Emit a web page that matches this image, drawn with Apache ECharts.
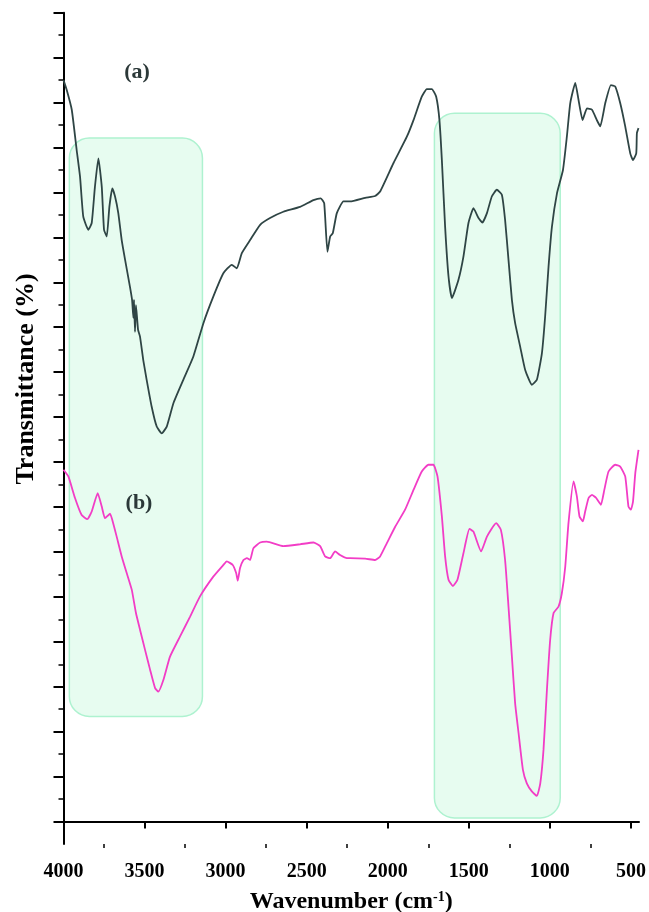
<!DOCTYPE html>
<html>
<head>
    <meta charset="utf-8"/>
    <title>FTIR</title>
    <script src="https://cdn.jsdelivr.net/npm/echarts@6/dist/echarts.min.js"></script>
    <style>html, body { margin: 0; padding: 0; background: #fff; }</style>
</head>
<body>
<div id="main" style="width: 649px; height: 912px"></div>
<script type="text/javascript">
    // spectrum (a) - wavenumber (cm-1) and transmittance (arb. units)
    var waveA = [4000, 3980, 3949, 3919, 3898, 3878, 3847, 3826, 3806, 3785,
        3764, 3750, 3733, 3717, 3699, 3682, 3662, 3641, 3620, 3590,
        3577, 3569, 3565, 3559, 3553, 3540, 3528, 3508, 3487, 3456,
        3425, 3394, 3363, 3322, 3261, 3199, 3137, 3076, 3014, 2962,
        2931, 2900, 2849, 2787, 2726, 2644, 2541, 2458, 2413, 2392,
        2372, 2355, 2339, 2314, 2273, 2232, 2139, 2078, 2047, 1965,
        1882, 1841, 1790, 1759, 1728, 1701, 1681, 1666, 1646, 1625,
        1604, 1564, 1533, 1502, 1471, 1440, 1416, 1388, 1358, 1327,
        1296, 1276, 1255, 1234, 1214, 1183, 1152, 1111, 1080, 1049,
        1029, 1008, 987, 956, 919, 895, 874, 843, 823, 798,
        771, 740, 710, 689, 658, 623, 597, 566, 535, 504,
        487, 467, 463, 453];
    var transA = [165.0, 162.8, 158.4, 149.5, 143.5, 134.6, 131.7, 133.2, 141.3, 147.6,
        141.3, 131.7, 130.2, 136.8, 140.9, 139.1, 135.4, 129.4, 125.0, 119.0,
        116.1, 112.1, 116.1, 109.0, 114.9, 109.4, 107.9, 102.7, 98.3, 92.3,
        87.9, 86.4, 87.9, 93.1, 98.3, 103.5, 110.9, 116.8, 122.0, 123.9,
        123.1, 126.5, 129.4, 132.8, 134.3, 135.7, 136.8, 138.3, 138.7, 137.6,
        126.8, 130.2, 130.9, 135.4, 138.0, 138.0, 138.8, 139.2, 140.2, 146.5,
        152.4, 156.1, 161.3, 163.0, 163.0, 161.3, 156.1, 147.2, 132.4, 121.3,
        116.5, 120.5, 125.7, 133.2, 136.5, 134.3, 133.3, 135.4, 139.1, 140.6,
        139.5, 133.9, 125.0, 116.1, 110.9, 105.7, 100.5, 97.2, 98.3, 104.2,
        112.4, 123.5, 132.4, 139.8, 145.0, 152.4, 159.9, 164.4, 160.6, 156.1,
        158.7, 158.4, 156.1, 154.7, 159.9, 163.9, 163.6, 159.9, 154.7, 148.7,
        147.2, 148.7, 153.2, 154.3];

    // spectrum (b)
    var waveB = [4000, 3970, 3929, 3888, 3853, 3826, 3789, 3764, 3744, 3713,
        3699, 3672, 3641, 3610, 3579, 3553, 3528, 3497, 3466, 3435,
        3415, 3384, 3343, 3281, 3219, 3158, 3076, 3014, 2993, 2956,
        2935, 2925, 2911, 2890, 2869, 2849, 2829, 2787, 2746, 2644,
        2541, 2458, 2417, 2386, 2355, 2325, 2294, 2252, 2232, 2139,
        2078, 2047, 2006, 1954, 1893, 1841, 1790, 1749, 1718, 1693,
        1666, 1646, 1625, 1598, 1570, 1533, 1496, 1471, 1424, 1388,
        1331, 1302, 1276, 1255, 1234, 1214, 1193, 1166, 1142, 1111,
        1080, 1059, 1039, 1018, 998, 977, 947, 926, 905, 885,
        854, 833, 817, 796, 782, 761, 740, 714, 685, 664,
        638, 597, 566, 535, 515, 500, 487, 473, 453];
    var transB = [78.3, 76.8, 72.0, 68.2, 67.3, 69.0, 73.1, 70.1, 67.5, 68.5,
        67.1, 63.4, 59.0, 55.3, 51.6, 46.4, 42.7, 38.2, 33.8, 29.7,
        28.9, 31.5, 36.7, 41.2, 45.6, 50.1, 54.5, 57.1, 57.9, 57.1,
        55.3, 53.6, 56.4, 58.2, 58.6, 58.2, 60.8, 62.1, 62.3, 61.3,
        61.7, 62.1, 61.3, 59.0, 58.6, 60.1, 59.3, 58.6, 58.6, 58.5,
        58.2, 59.0, 61.9, 65.6, 69.4, 73.8, 77.9, 79.4, 79.4, 76.8,
        67.9, 59.0, 53.8, 52.4, 53.8, 59.7, 65.1, 64.5, 60.1, 63.4,
        66.4, 64.9, 58.2, 47.8, 36.7, 26.3, 19.7, 11.5, 8.5, 6.7,
        5.7, 8.5, 16.0, 29.3, 40.4, 46.4, 47.8, 50.8, 56.7, 66.4,
        75.7, 72.3, 67.9, 66.8, 69.0, 72.0, 72.7, 72.0, 70.5, 73.8,
        77.9, 79.4, 79.0, 76.8, 70.1, 69.4, 71.2, 77.5, 82.7];

    // axis ticks
    var xTicks = [4000, 3500, 3000, 2500, 2000, 1500, 1000, 500];
    var xMinorTicks = [3750, 3250, 2750, 2250, 1750, 1250, 750];
    var yTicks = [0, 10, 20, 30, 40, 50, 60, 70, 80, 90, 100, 110, 120, 130, 140, 150, 160, 170, 180];

    // highlighted bands: [wave from, wave to, top, bottom]
    var bands = [[3964, 3143, 152.1, 23.4], [1712, 936, 157.6, 0.8]];

    var serif = '"Liberation Serif", "Times New Roman", serif';

    // x axis runs high -> low, so keep negative values on the axis
    function pairs(w, t) {
        return w.map(function (v, i) { return [-v, t[i]]; });
    }
    function neg(arr) {
        return arr.map(function (v) { return -v; });
    }

    var myChart = echarts.init(document.getElementById('main'));

    var option = {
        animation: false,
        backgroundColor: '#fff',
        grid: {left: 63.5, right: 10, top: 12.7, bottom: 68, containLabel: false, outerBoundsMode: 'none'},
        xAxis: [
            {
                type: 'value',
                min: -4000,
                max: -450,
                splitLine: {show: false},
                axisLine: {lineStyle: {color: '#000', width: 2}},
                axisTick: {length: 7, lineStyle: {color: '#000', width: 2}, customValues: neg(xTicks)},
                axisLabel: {
                    customValues: neg(xTicks),
                    margin: 18,
                    color: '#000',
                    fontFamily: serif,
                    fontWeight: 'bold',
                    fontSize: 20,
                    formatter: function (v) { return String(-v); }
                },
                name: '{t|Wavenumber (cm}{s|-1}{t|)}',
                nameLocation: 'middle',
                nameGap: 46,
                nameTextStyle: {
                    rich: {
                        t: {fontFamily: serif, fontWeight: 'bold', fontSize: 24, color: '#000'},
                        s: {fontFamily: serif, fontWeight: 'bold', fontSize: 14, color: '#000', verticalAlign: 'top'}
                    }
                }
            },
            {
                // minor ticks only
                type: 'value',
                position: 'bottom',
                min: -4000,
                max: -450,
                splitLine: {show: false},
                axisLine: {show: false},
                axisLabel: {show: false},
                axisTick: {length: 4, lineStyle: {color: '#000', width: 1.5}, customValues: neg(xMinorTicks)}
            }
        ],
        yAxis: {
            type: 'value',
            min: -5,
            max: 180,
            splitNumber: 18,
            splitLine: {show: false},
            axisLine: {lineStyle: {color: '#000', width: 2}},
            axisTick: {length: 10, lineStyle: {color: '#000', width: 2}, customValues: yTicks},
            minorTick: {show: true, splitNumber: 2, length: 5, lineStyle: {color: '#000', width: 1.5}},
            axisLabel: {show: false}
        },
        series: [
            {
                name: '(a)',
                type: 'line',
                data: pairs(waveA, transA),
                showSymbol: false,
                smooth: 0.15,
                z: 5,
                lineStyle: {color: '#2f4545', width: 1.8}
            },
            {
                name: '(b)',
                type: 'line',
                data: pairs(waveB, transB),
                showSymbol: false,
                smooth: 0.15,
                z: 5,
                lineStyle: {color: '#f23dc6', width: 1.8}
            }
        ]
    };

    myChart.setOption(option);

    // rounded band boxes placed through the chart's own scales
    var graphics = bands.map(function (b) {
        var p1 = myChart.convertToPixel({xAxisIndex: 0, yAxisIndex: 0}, [-b[0], b[2]]);
        var p2 = myChart.convertToPixel({xAxisIndex: 0, yAxisIndex: 0}, [-b[1], b[3]]);
        return {
            type: 'rect',
            z: -10,
            shape: {x: p1[0], y: p1[1], width: p2[0] - p1[0], height: p2[1] - p1[1], r: 20},
            style: {fill: '#e7fcf0', stroke: '#aef2d0', lineWidth: 1.5}
        };
    });
    graphics.push({
        type: 'text', x: 26, y: 379, rotation: Math.PI / 2,
        style: {text: 'Transmittance (%)', font: 'bold 26px ' + serif, fill: '#000', align: 'center', verticalAlign: 'middle'}
    });
    graphics.push({
        type: 'text', x: 137, y: 72,
        style: {text: '(a)', font: 'bold 22px ' + serif, fill: '#2b3838', align: 'center', verticalAlign: 'middle'}
    });
    graphics.push({
        type: 'text', x: 139, y: 503,
        style: {text: '(b)', font: 'bold 22px ' + serif, fill: '#2b3838', align: 'center', verticalAlign: 'middle'}
    });
    myChart.setOption({graphic: graphics});
</script>
</body>
</html>
